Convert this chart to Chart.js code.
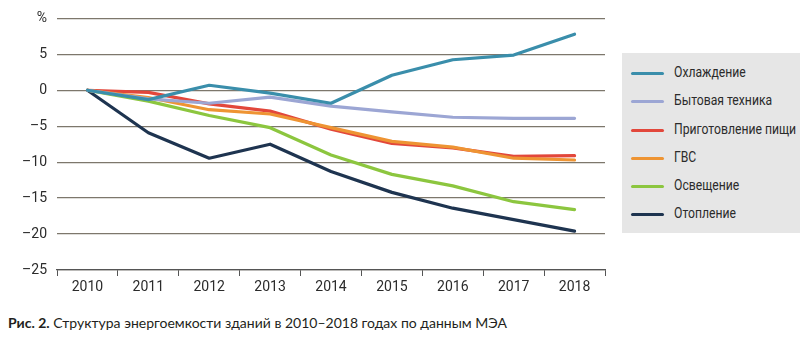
<!DOCTYPE html>
<html lang="ru">
<head>
<meta charset="utf-8">
<script src="https://cdn.jsdelivr.net/npm/chart.js@4.4.1/dist/chart.umd.min.js"></script>
<style>
  html, body { margin: 0; padding: 0; background: #fff; }
  #wrap { position: relative; width: 800px; height: 338px; overflow: hidden; }
  #chart { position: absolute; left: 0; top: 0; width: 800px; height: 300px; }
  #legend {
    position: absolute; left: 622px; top: 53px; width: 178px; height: 180px;
    background: #e6e6e6; box-sizing: border-box; padding-top: 6px;
    font-family: Roboto, sans-serif; font-size: 14.5px; color: #2b2b2b;
  }
  #legend .item { position: relative; height: 28.3px; line-height: 28.3px; padding-left: 52px; white-space: nowrap; }
  #legend .sw { position: absolute; left: 9px; top: 13px; width: 33px; height: 3px; border-radius: 1.5px; }
  #legend .txt { display: inline-block; transform: scaleX(0.84); transform-origin: left center; }
  #caption {
    position: absolute; left: 8px; top: 314px;
    font-family: Lato, "Open Sans", sans-serif; font-size: 14px; color: #231f20; white-space: nowrap;
  }
  #caption b { font-weight: 700; }
</style>
</head>
<body>
<div id="wrap">
  <canvas id="chart" width="800" height="300"></canvas>
  <div id="legend"></div>
  <div id="caption"><b>Рис. 2.</b> Структура энергоемкости зданий в 2010–2018 годах по данным МЭА</div>
</div>
<script>
// годы
const years = ['2010', '2011', '2012', '2013', '2014', '2015', '2016', '2017', '2018'];

// значения, % к 2010 г.
const cooling    = [0, -1.3,  0.7, -0.4, -1.8,   2.1,   4.25,  4.9,   7.8];
const appliances = [0, -1.2, -1.8, -0.95, -2.2, -3.0,  -3.75, -3.9,  -3.9];
const cooking    = [0, -0.3, -1.9, -2.9, -5.4,  -7.4,  -8.0,  -9.2,  -9.1];
const hotWater   = [0, -1.0, -2.7, -3.3, -5.2,  -7.1,  -7.9,  -9.45, -9.7];
const lighting   = [0, -1.5, -3.5, -5.2, -9.0, -11.7, -13.3, -15.5, -16.6];
const heating    = [0, -5.9, -9.45, -7.5, -11.3, -14.2, -16.4, -18.0, -19.6];

const seriesNames  = ['Охлаждение', 'Бытовая техника', 'Приготовление пищи', 'ГВС', 'Освещение', 'Отопление'];
const seriesValues = [cooling, appliances, cooking, hotWater, lighting, heating];
const seriesColors = ['#3a8eab', '#9ca6d4', '#e2473b', '#ee9433', '#8cc63f', '#1e3450'];

const gridColor = '#7d776c';
const tickFont = { family: 'Roboto, sans-serif', size: 14 };

const datasets = seriesNames.map((name, i) => ({
  label: name,
  data: seriesValues[i],
  borderColor: seriesColors[i],
  backgroundColor: seriesColors[i],
  borderWidth: 3.2,
  pointRadius: 0,
  tension: 0,
  borderCapStyle: 'round',
  borderJoinStyle: 'round',
  order: i === 3 ? 1 : (i === 2 ? 2 : i),
}));

const chart = new Chart(document.getElementById('chart'), {
  type: 'line',
  data: { labels: years, datasets },
  options: {
    responsive: false,
    animation: false,
    devicePixelRatio: 1,
    layout: { padding: { left: 0, right: 195, top: 14, bottom: 0 } },
    plugins: { legend: { display: false }, tooltip: { enabled: false } },
    scales: {
      x: {
        offset: true,
        grid: { offset: true, drawOnChartArea: false, drawTicks: true, tickLength: 6, color: '#555', lineWidth: 1 },
        border: { display: true, color: '#555', width: 1.2 },
        ticks: { color: '#2b2b2b', font: tickFont, padding: 3, maxRotation: 0, autoSkip: false },
        afterFit: (s) => { s.height = 30; },
      },
      y: {
        min: -25,
        max: 10,
        grid: { drawTicks: false, color: gridColor, lineWidth: 1.3 },
        border: { display: false },
        ticks: {
          stepSize: 5,
          color: '#2b2b2b',
          font: tickFont,
          padding: 10,
          callback: (v) => v === 10 ? '%' : (v < 0 ? '\u2013' + Math.abs(v) : String(v)),
        },
        afterFit: (s) => { s.width = 57; },
      },
    },
  },
});

// легенда
const legend = document.getElementById('legend');
chart.data.datasets.forEach((ds) => {
  const item = document.createElement('div');
  item.className = 'item';
  const sw = document.createElement('span');
  sw.className = 'sw';
  sw.style.background = ds.borderColor;
  const txt = document.createElement('span');
  txt.className = 'txt';
  txt.textContent = ds.label;
  item.appendChild(sw);
  item.appendChild(txt);
  legend.appendChild(item);
});
</script>
</body>
</html>
